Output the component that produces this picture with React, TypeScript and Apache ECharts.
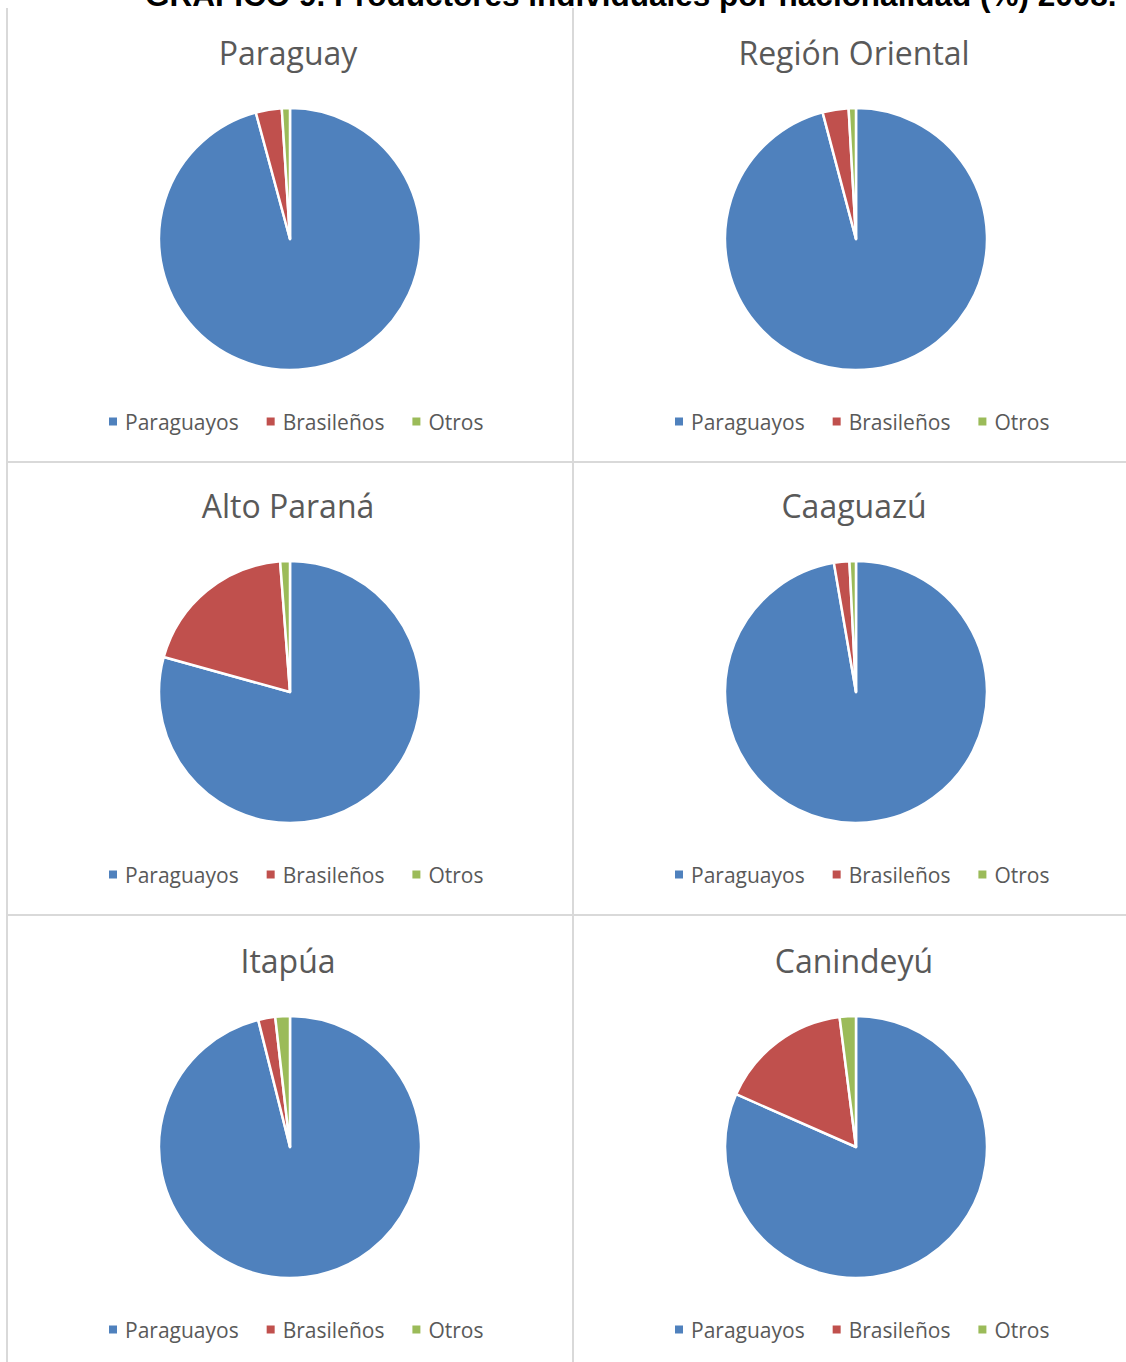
import React, { useEffect, useRef } from "react";
import * as echarts from "echarts";

const mainTitle = "GRÁFICO 9. Productores individuales por nacionalidad (%) 2008.";
const categories = ["Paraguayos", "Brasileños", "Otros"];
const regions = ["Paraguay", "Región Oriental", "Alto Paraná", "Caaguazú", "Itapúa", "Canindeyú"];
const paraguayos = [95.8, 95.9, 79.3, 97.3, 96.1, 81.6];
const brasilenos = [3.2, 3.2, 19.5, 1.9, 2.1, 16.4];
const otros = [1.0, 0.9, 1.2, 0.8, 1.8, 2.0];

const colors = ["#4f81bd", "#c0504d", "#9bbb59"];
const font = "'Open Sans', 'Noto Sans', sans-serif";

export default function App() {
  const ref = useRef<HTMLDivElement>(null);
  useEffect(() => {
    if (!ref.current) return;
    const chart = echarts.init(ref.current, null, { renderer: "svg" });
    const colX = [290, 856];
    const rowY = [239, 692, 1147];
    const series: any[] = [];
    const legends: any[] = [];
    const graphics: any[] = [];
    regions.forEach((name, i) => {
      const cx = colX[i % 2];
      const cy = rowY[Math.floor(i / 2)];
      series.push({
        type: "pie",
        name,
        legendIndex: i,
        center: [cx, cy],
        radius: 131,
        startAngle: 90,
        clockwise: true,
        label: { show: false },
        labelLine: { show: false },
        emphasis: { disabled: true },
        itemStyle: { borderColor: "#ffffff", borderWidth: 2.5 },
        data: categories.map((c, k) => ({
          name: c,
          value: [paraguayos, brasilenos, otros][k][i],
        })),
      });
      legends.push({
        data: categories,
        left: cx - 188,
        top: cy + 167,
        icon: "rect",
        itemWidth: 10,
        itemHeight: 10,
        itemGap: 26,
        selectedMode: false,
        textStyle: { color: "#595959", fontSize: 21, fontFamily: font, padding: [0, 0, 0, 2] },
      });
      graphics.push({
        type: "text",
        x: cx - 2,
        y: cy - 187,
        style: {
          text: name,
          fill: "#595959",
          font: `32px ${font}`,
          textAlign: "center",
          textVerticalAlign: "middle",
        },
      });
    });
    const lineStyle = { stroke: "#d9d9d9", lineWidth: 2 };
    graphics.push(
      { type: "line", shape: { x1: 7, y1: 8, x2: 7, y2: 1362 }, style: lineStyle },
      { type: "line", shape: { x1: 573, y1: 8, x2: 573, y2: 1362 }, style: lineStyle },
      { type: "line", shape: { x1: 7, y1: 462, x2: 1126, y2: 462 }, style: lineStyle },
      { type: "line", shape: { x1: 7, y1: 915, x2: 1126, y2: 915 }, style: lineStyle },
      {
        type: "text",
        x: 145,
        y: -5,
        style: {
          text: mainTitle,
          fill: "#000000",
          font: "bold 31.5px 'Liberation Sans', Arial, sans-serif",
          textAlign: "left",
          textVerticalAlign: "middle",
        },
      }
    );
    chart.setOption({
      animation: false,
      color: colors,
      backgroundColor: "#ffffff",
      legend: legends,
      graphic: graphics,
      series,
    });
    return () => chart.dispose();
  }, []);
  return (
    <div
      ref={ref}
      style={{ position: "absolute", left: 0, top: 0, width: 1126, height: 1362 }}
    />
  );
}
